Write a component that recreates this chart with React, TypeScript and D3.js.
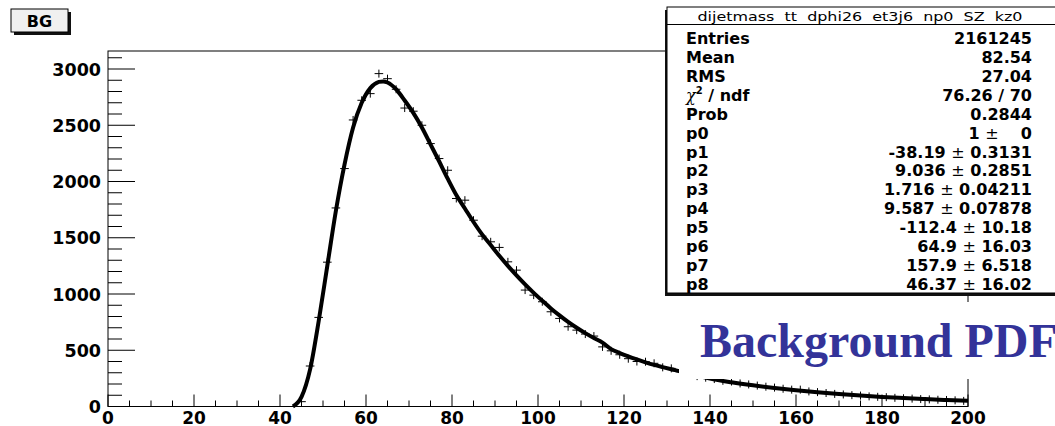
import React from 'react';
import * as d3 from 'd3';

// histogram: 100 bins of width 2 on [0, 200]
const binCenters = d3.range(1, 200, 2);
const binCounts = [
	0, 0, 0, 0, 0, 0, 0, 0, 0, 0, 0, 0, 0, 0, 0, 0, 0, 0, 0, 0, 0, 0,
	43, 360, 792, 1283, 1765, 2115, 2547, 2722, 2781, 2959,
	2914, 2820, 2653, 2625, 2500, 2337, 2204, 2100, 1849, 1834,
	1656, 1514, 1464, 1414, 1286, 1212, 1035, 990, 931, 842,
	783, 709, 679, 644, 626, 530, 495, 460, 425, 400,
	398, 384, 348, 339, 309, 295, 270, 256, 244, 228,
	222, 205, 196, 186, 176, 168, 158, 150, 150, 134,
	128, 120, 112, 107, 101, 97, 90, 86, 83, 77,
	73, 70, 66, 63, 60, 58, 55, 50,
];

// fitted curve
const fitX = [
	43, 45, 47, 49, 51, 53, 55, 57, 59, 61, 63, 64, 65, 67, 69, 71, 73, 75, 77, 79,
	81, 83, 85, 87, 89, 91, 93, 95, 97, 99, 101, 103, 105, 107, 109, 111, 113, 115,
	117, 119, 121, 123, 125, 127, 129, 131, 133, 135, 137, 140, 145, 150, 155, 160,
	165, 170, 175, 180, 185, 190, 195, 200,
];
const fitY = [
	0, 85, 330, 760, 1250, 1740, 2150, 2480, 2700, 2830, 2885, 2890, 2880, 2820, 2720, 2610, 2480, 2330, 2180, 2025,
	1880, 1760, 1640, 1530, 1435, 1340, 1250, 1165, 1085, 1010, 940, 872, 810, 752, 700, 652, 608, 568,
	510, 475, 445, 418, 393, 370, 350, 331, 313, 293, 275, 248, 215, 188, 165, 145,
	127, 111, 97, 85, 75, 66, 58, 51,
];

const statTitle = 'dijetmass  tt  dphi26  et3j6  np0  SZ  kz0';
const statNames = ['Entries', 'Mean', 'RMS', 'chi2', 'Prob', 'p0', 'p1', 'p2', 'p3', 'p4', 'p5', 'p6', 'p7', 'p8'];
const statValues = [
	'2161245', '82.54', '27.04', '76.26 / 70', '0.2844',
	'1 \u00b1    0', '-38.19 \u00b1 0.3131', '9.036 \u00b1 0.2851', '1.716 \u00b1 0.04211',
	'9.587 \u00b1 0.07878', '-112.4 \u00b1 10.18', '64.9 \u00b1 16.03', '157.9 \u00b1 6.518', '46.37 \u00b1 16.02',
];

const App = () => {
	const W = 1055, H = 426;
	const x = d3.scaleLinear().domain([0, 200]).range([108, 968]);
	const y = d3.scaleLinear().domain([0, 3160]).range([406.5, 51]);
	const halfBin = (x(2) - x(0)) / 2;

	const line = d3.line<number>()
		.x((d, i) => x(fitX[i]))
		.y(d => y(d))
		.curve(d3.curveMonotoneX);

	const yMajor = d3.range(0, 3001, 500);
	const yMinor = d3.range(0, 3160, 100).filter(v => v % 500 !== 0);
	const xMajor = d3.range(0, 201, 20);
	const xMinor = d3.range(0, 201, 5).filter(v => v % 20 !== 0);

	const font = '"DejaVu Sans", sans-serif';
	const boxX = 667, boxY = 7, boxW = 400, boxH = 286;

	const renderValue = (v: string) => {
		const parts = v.split('\u00b1');
		if (parts.length === 1) return v;
		return (
			<>
				{parts[0]}
				<tspan fontWeight="normal">{'\u00b1'}</tspan>
				{parts[1]}
			</>
		);
	};

	return (
		<svg width={W} height={H} style={{ position: 'absolute', left: 0, top: 0, background: '#fff' }}>
			<rect x={0} y={0} width={W} height={H} fill="#fff" />

			{/* frame */}
			<rect x={108} y={51} width={860} height={355.5} fill="none" stroke="#000" strokeWidth={1} />

			{/* y axis ticks */}
			{yMajor.map(v => (
				<line key={'ym' + v} x1={108} x2={135} y1={y(v)} y2={y(v)} stroke="#000" />
			))}
			{yMinor.map(v => (
				<line key={'yn' + v} x1={108} x2={122} y1={y(v)} y2={y(v)} stroke="#000" />
			))}
			{yMajor.map(v => (
				<text key={'yl' + v} x={101} y={y(v) + 6.5} textAnchor="end" fontFamily={font}
					fontWeight="bold" fontSize={17.5}>{v}</text>
			))}

			{/* x axis ticks */}
			{xMajor.map(v => (
				<line key={'xm' + v} x1={x(v)} x2={x(v)} y1={406.5} y2={394.5} stroke="#000" />
			))}
			{xMinor.map(v => (
				<line key={'xn' + v} x1={x(v)} x2={x(v)} y1={406.5} y2={400.5} stroke="#000" />
			))}
			{xMajor.map(v => (
				<text key={'xl' + v} x={x(v)} y={424} textAnchor="middle" fontFamily={font}
					fontWeight="bold" fontSize={17}>{v}</text>
			))}

			{/* histogram points */}
			{binCenters.map((c, i) => {
				const cy = y(binCounts[i]);
				const cx = x(c);
				const e = binCounts[i] > 0 ? 4 : 0;
				return (
					<g key={'p' + c} stroke="#000" strokeWidth={1}>
						<line x1={cx - halfBin} x2={cx + halfBin} y1={cy} y2={cy} />
						{e > 0 && <line x1={cx} x2={cx} y1={cy - e} y2={cy + e} />}
					</g>
				);
			})}

			{/* fit */}
			<path d={line(fitY) || ''} fill="none" stroke="#000" strokeWidth={4} strokeLinejoin="round" />

			{/* label pave (white, hides what is under it) */}
			<rect x={679} y={302} width={400} height={77} fill="#fff" />
			<text x={700} y={357} fontFamily='"Liberation Serif", "Times New Roman", serif' fontWeight="bold"
				fontSize={48} fill="#333399">Background PDF</text>

			{/* title box */}
			<rect x={14} y={12} width={57} height={23} fill="#111" />
			<rect x={11} y={9} width={57} height={23} fill="#f0f0f0" stroke="#000" strokeWidth={1} />
			<text x={39.5} y={26.5} textAnchor="middle" fontFamily={font} fontWeight="bold" fontSize={16}>BG</text>

			{/* stats box */}
			<rect x={boxX - 2} y={boxY + 3} width={boxW} height={boxH} fill="#111" />
			<rect x={boxX} y={boxY} width={boxW} height={boxH} fill="#fff" stroke="#000" strokeWidth={1} />
			<line x1={boxX} x2={boxX + boxW} y1={24.5} y2={24.5} stroke="#000" />
			<text x={860} y={21} textAnchor="middle" fontFamily={font} fontSize={13}
				textLength={325} lengthAdjust="spacingAndGlyphs" style={{ whiteSpace: 'pre' }}>{statTitle}</text>
			{statNames.map((n, i) => {
				const by = 38.7 + 18.87 * i + 5.6;
				return (
					<g key={'s' + n} fontFamily={font} fontWeight="bold" fontSize={16}>
						{n === 'chi2' ? (
							<text x={686} y={by}>
								<tspan fontFamily='"DejaVu Serif", serif' fontStyle="italic" fontWeight="normal">{'\u03c7'}</tspan>
								<tspan fontSize={10} dy={-7}>2</tspan>
								<tspan dy={7}>{' / ndf'}</tspan>
							</text>
						) : (
							<text x={686} y={by}>{n}</text>
						)}
						<text x={1032} y={by} textAnchor="end" style={{ whiteSpace: 'pre' }}>{renderValue(statValues[i])}</text>
					</g>
				);
			})}
		</svg>
	);
};

export default App;
